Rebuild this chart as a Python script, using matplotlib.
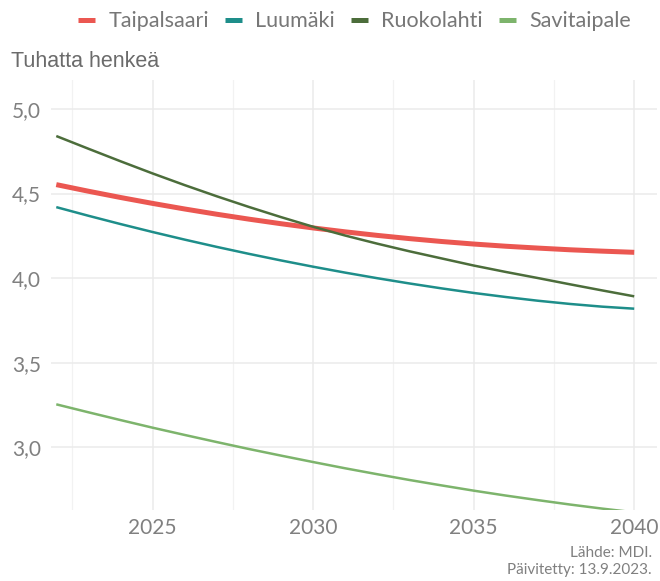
import matplotlib
matplotlib.use("Agg")
import matplotlib.pyplot as plt
from matplotlib.ticker import MultipleLocator, FuncFormatter

years = list(range(2022, 2041))
taipalsaari = [4.553, 4.514, 4.477, 4.442, 4.409, 4.378, 4.349, 4.322, 4.297, 4.274,
               4.253, 4.234, 4.217, 4.202, 4.189, 4.178, 4.168, 4.160, 4.153]
luumaki = [4.420, 4.369, 4.320, 4.273, 4.228, 4.185, 4.144, 4.105, 4.068, 4.033,
           4.000, 3.969, 3.940, 3.913, 3.889, 3.867, 3.848, 3.832, 3.820]
ruokolahti = [4.840, 4.765, 4.691, 4.619, 4.550, 4.484, 4.421, 4.361, 4.304, 4.252,
              4.204, 4.159, 4.117, 4.075, 4.037, 4.001, 3.964, 3.928, 3.893]
savitaipale = [3.255, 3.208, 3.162, 3.117, 3.074, 3.032, 2.991, 2.952, 2.914, 2.877,
               2.842, 2.808, 2.776, 2.745, 2.716, 2.689, 2.663, 2.639, 2.617]

series = [
    ("Taipalsaari", taipalsaari, "#EB5751", 3.6),
    ("Luumäki", luumaki, "#1E8E8A", 1.8),
    ("Ruokolahti", ruokolahti, "#4C6D3B", 1.8),
    ("Savitaipale", savitaipale, "#7DB46C", 1.8),
]

plt.rcParams['font.family'] = ['Lato', 'DejaVu Sans']

fig = plt.figure(figsize=(6.6, 5.81), dpi=100)
ax = fig.add_axes([0.077, 0.122, 0.918, 0.740])

for name, vals, col, lw in series:
    ax.plot(years, vals, color=col, lw=lw, label=name, solid_capstyle='butt', zorder=3)

ax.set_xlim(2021.83, 2040.7)
ax.set_ylim(2.63, 5.17)
ax.xaxis.set_major_locator(MultipleLocator(5))
ax.xaxis.set_minor_locator(MultipleLocator(2.5))
ax.yaxis.set_major_locator(MultipleLocator(0.5))
ax.yaxis.set_major_formatter(FuncFormatter(lambda v, p: f"{v:.1f}".replace(".", ",")))

ax.grid(which='major', color='#ebebeb', lw=1.1)
ax.grid(which='minor', axis='x', color='#f2f2f2', lw=0.9)
ax.set_axisbelow(True)
for s in ax.spines.values():
    s.set_visible(False)
ax.tick_params(which='both', length=0, labelsize=15, labelcolor='#808080')
ax.tick_params(axis='y', pad=7)
ax.tick_params(axis='x', pad=6)

fig.text(0.017, 0.895, "Tuhatta henkeä", fontsize=15.5, color='#6b6b6b',
         family='Liberation Sans', va='center')

leg = fig.legend(loc='center', bbox_to_anchor=(0.537, 0.963), ncol=4, frameon=False,
                 fontsize=15.5, handlelength=0.8, handletextpad=0.6, columnspacing=0.75)
for t in leg.get_texts():
    t.set_color('#777777')
for h in leg.legend_handles:
    h.set_linewidth(3.6)

fig.text(0.988, 0.048, "Lähde: MDI.", fontsize=11, color='#808080', ha='right', va='center')
fig.text(0.988, 0.019, "Päivitetty: 13.9.2023.", fontsize=11, color='#808080', ha='right', va='center')

fig.savefig("out.png", dpi=100)
